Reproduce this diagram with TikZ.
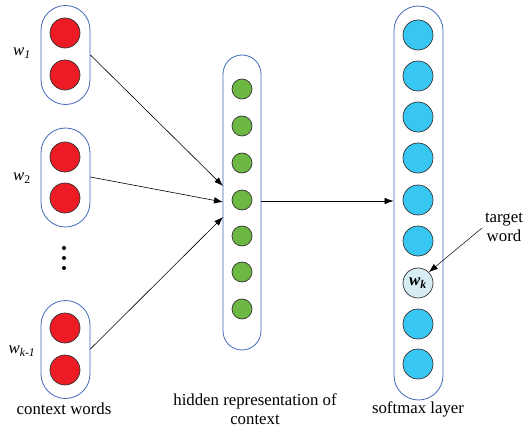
\documentclass[tikz,border=0pt]{standalone}
\usepackage{fontspec}
\setmainfont{Liberation Serif}
\usetikzlibrary{arrows.meta}
\definecolor{boxblue}{HTML}{4268B8}
\definecolor{nred}{HTML}{ED1C24}
\definecolor{ngreen}{HTML}{6CB843}
\definecolor{nblue}{HTML}{38C6F2}
\definecolor{nlight}{HTML}{D5EDF3}
\begin{document}
\begin{tikzpicture}[x=1pt,y=-1pt,
  every node/.style={font=\fontsize{16.8}{19}\selectfont},
  pill/.style={draw=boxblue,line width=0.8pt,rounded corners=#1},
  bigcirc/.style={circle,draw=black!80,line width=0.7pt,minimum size=30pt,inner sep=0pt},
  smallcirc/.style={circle,draw=black!80,line width=0.7pt,minimum size=20pt,inner sep=0pt,fill=ngreen},
  arr/.style={-{Latex[length=9pt,width=6.5pt]},line width=0.6pt},
  lbl/.style={align=center,inner sep=0pt},
  dot/.style={circle,fill=black,inner sep=0pt,minimum size=4pt}]
\useasboundingbox (0,0) rectangle (528,428);
% context boxes
\node[pill=24.5pt,minimum width=49pt,minimum height=99pt,inner sep=0pt] (b1) at (65.5,55) {};
\node[pill=24.5pt,minimum width=49pt,minimum height=99pt,inner sep=0pt] (b2) at (65.5,177.5) {};
\node[pill=24.5pt,minimum width=49pt,minimum height=98pt,inner sep=0pt] (b3) at (65.5,349.5) {};
\node[bigcirc,fill=nred] (r1) at (65,33) {};
\node[bigcirc,fill=nred] (r2) at (65,75) {};
\node[bigcirc,fill=nred] (r3) at (65,157) {};
\node[bigcirc,fill=nred] (r4) at (65,198) {};
\node[bigcirc,fill=nred] (r5) at (65,328) {};
\node[bigcirc,fill=nred] (r6) at (65,370) {};
\node[dot] (d1) at (64,248) {};
\node[dot] (d2) at (64,258) {};
\node[dot] (d3) at (64,268) {};
\node[lbl] (l1) at (22,53) {\itshape w\textsubscript{1}};
\node[lbl] (l2) at (22,178) {\itshape w\textsubscript{\upshape 2}};
\node[lbl] (l3) at (22,351) {\itshape w\textsubscript{k-1}};
% hidden
\node[pill=19pt,minimum width=38pt,minimum height=295pt,inner sep=0pt] (h) at (242,202.5) {};
\foreach \i/\y in {1/89,2/126,3/163,4/200,5/236,6/272,7/309}{
  \node[smallcirc] (g\i) at (242,\y) {};
}
% softmax
\node[pill=24.5pt,minimum width=49pt,minimum height=394pt,inner sep=0pt] (s) at (418.5,203) {};
\foreach \i/\y in {1/35,2/76,3/117,4/158,5/200,6/241,8/324,9/364}{
  \node[bigcirc,fill=nblue] (c\i) at (418,\y) {};
}
\node[bigcirc,fill=nlight] (wk) at (418,283) {\bfseries\itshape w\textsubscript{k}};
% arrows
\coordinate (t1) at (223,186);
\coordinate (t2) at (223,202);
\coordinate (t3) at (223,217);
\draw[arr] (b1.east |- 0,55) -- (t1);
\draw[arr] (b2.east |- 0,177) -- (t2);
\draw[arr] (b3.east |- 0,349) -- (t3);
\draw[arr] (h.east |- 0,201) -- (s.west |- 0,201);
% target word
\node[lbl] (tw) at (504,227) {target\\word};
\draw[arr,line width=0.5pt] (482,228) -- (wk.north east);
% captions
\node[lbl] (cw) at (64,409) {context words};
\node[lbl] (hr) at (255,409) {hidden representation of\\context};
\node[lbl] (sl) at (418,409) {softmax layer};
\end{tikzpicture}
\end{document}
